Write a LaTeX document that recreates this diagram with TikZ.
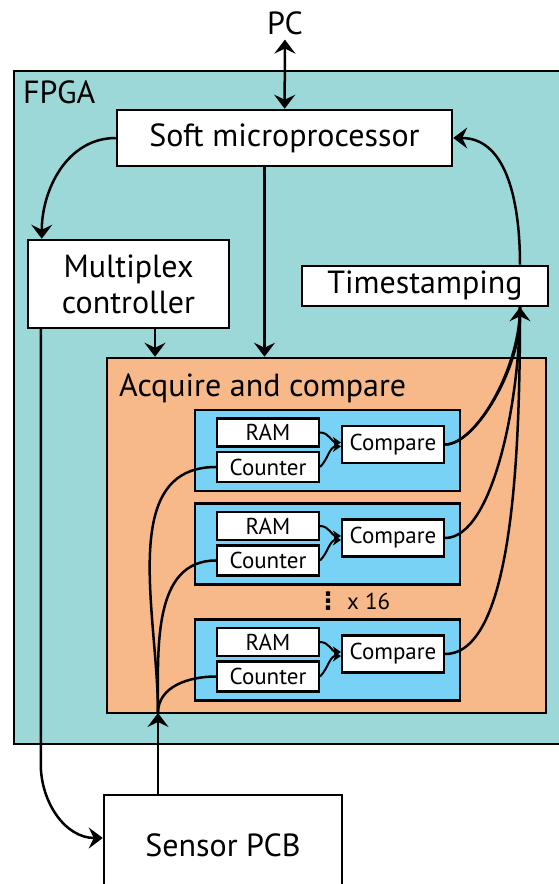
\documentclass[tikz,border=0pt]{standalone}
\usepackage{fontspec}
\setmainfont{PT Sans}
\newfontfamily\symfont{DejaVu Sans}
\usetikzlibrary{arrows.meta}

\definecolor{fpgacol}{RGB}{157,216,216}
\definecolor{acqcol}{RGB}{248,185,138}
\definecolor{chancol}{RGB}{120,210,245}

\tikzset{
  bigtxt/.style={font=\fontsize{32}{36}\selectfont},
  smalltxt/.style={font=\fontsize{23}{26}\selectfont},
  blk/.style={draw, fill=white, line width=2.5pt, inner sep=0pt, bigtxt},
  subblk/.style={draw, fill=white, line width=2.2pt, inner sep=0pt, smalltxt,
    minimum width=102pt},
  conn/.style={line width=2.5pt},
  thin conn/.style={line width=2pt, -{Stealth[length=8pt, width=11pt, inset=2.5pt]}},
  >={Stealth[length=14pt, width=21pt, inset=5pt]}
}

\begin{document}
\begin{tikzpicture}[x=1pt, y=1pt]
  \useasboundingbox (0,0) rectangle (558,884);

  % FPGA outline
  \draw[fill=fpgacol, line width=2.5pt] (14,140) rectangle (575,813);
  \node[bigtxt, anchor=base west, inner sep=0pt] (fpga) at (23,780) {FPGA};

  \node[bigtxt, anchor=base, inner sep=4pt] (pc) at (285,849) {PC};

  \node[blk, minimum width=335pt, minimum height=56pt] (soft) at (284.5,746) {Soft microprocessor};
  \node[blk, minimum width=201pt, minimum height=88pt, align=center] (mux) at (128.5,600) {Multiplex\\controller};
  \node[blk, minimum width=246pt, minimum height=40pt] (ts) at (425,598) {Timestamping};

  % acquisition block
  \node[draw, fill=acqcol, line width=2.5pt, minimum width=439pt, minimum height=355pt] (acq) at (326.5,348.5) {};
  \node[bigtxt, anchor=base west, inner sep=0pt] (acqlbl) at (119,487) {Acquire and compare};

  \coordinate (m) at (158,171);
  \coordinate (tsin) at ([xshift=95pt]ts.south);
  \coordinate (tsout) at ([xshift=95pt]ts.north);

  \foreach \i/\y in {1/433.5, 2/340, 3/224} {
    \node[draw, fill=chancol, line width=2.5pt, minimum width=265pt, minimum height=81pt] (ch\i) at (327.5,\y) {};
    \node[subblk, minimum height=28pt] (ram\i) at (268,\y+18) {RAM};
    \node[subblk, minimum height=30pt] (cnt\i) at (268,\y-16.5) {Counter};
    \node[subblk, minimum height=37pt] (cmp\i) at (393,\y+6) {Compare};
    \draw[thin conn] (ram\i.east) to[out=0, in=180] ([yshift=2pt]cmp\i.west);
    \draw[thin conn] (cnt\i.east) to[out=45, in=180] ([yshift=-2pt]cmp\i.west);
    \draw[conn] (m) to[out=90, in=180] (cnt\i.west);
    \draw[conn] (cmp\i.east) to[out=0, in=-90, out looseness=0.5] (tsin);
  }
  \draw[conn, ->] (cmp1.east) to[out=0, in=-90, out looseness=0.5] (tsin);

  \node[font=\symfont\bfseries\fontsize{24}{24}\selectfont, inner sep=0pt] (dots) at (328,283) {⋮};
  \node[smalltxt, anchor=base west, inner sep=0pt] (mult) at (347,274) {x 16};

  \node[blk, minimum width=238pt, minimum height=100pt] (sensor) at (223,39) {Sensor PCB};

  % connections
  \draw[conn, <->] (pc) -- (soft);
  \draw[conn, ->] (soft.west) to[out=180, in=90] ([xshift=15pt]mux.north west);
  \draw[conn, ->] (tsout) to[out=90, in=0] (soft.east);
  \coordinate (s1) at ([xshift=-20pt]soft.south);
  \draw[conn, ->] (s1) -- (s1 |- acq.north);
  \coordinate (m1) at ([xshift=26.5pt]mux.south);
  \draw[conn, ->] (m1) -- (m1 |- acq.north);
  \coordinate (m2) at ([xshift=14pt]mux.south west);
  \draw[conn, ->] (m2) -- (m2 |- 0,120) to[out=-90, in=180] ([yshift=7pt]sensor.west);
  \draw[conn, ->] (sensor.north -| m) -- (m);
\end{tikzpicture}
\end{document}
